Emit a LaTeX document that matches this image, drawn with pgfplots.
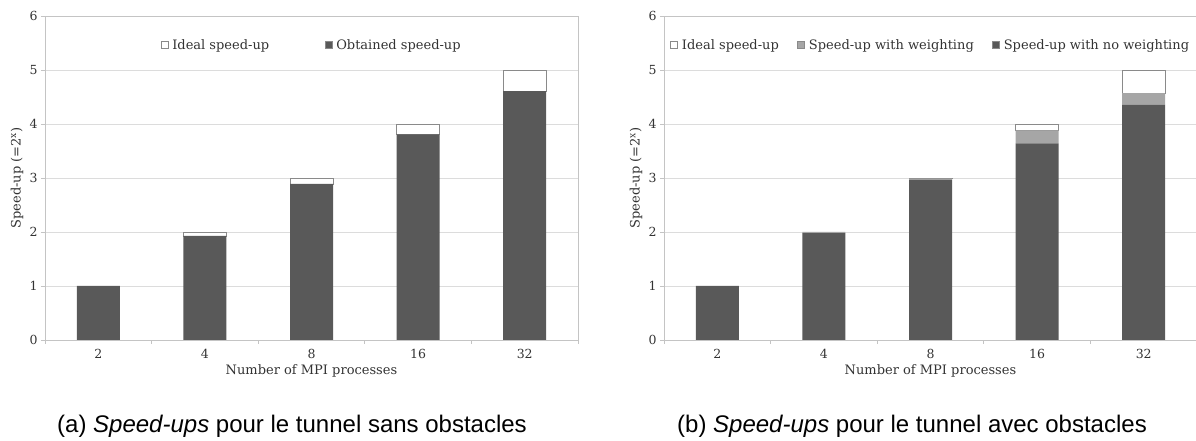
\documentclass[border=0pt]{standalone}
\usepackage{pgfplots}
\pgfplotsset{compat=1.18}
\usepackage{fontspec}
\setmainfont{DejaVu Serif}
\newfontfamily\capfont{Liberation Sans}
\definecolor{darkbar}{HTML}{595959}
\definecolor{midbar}{HTML}{A6A6A6}
\definecolor{gridc}{HTML}{DCDCDC}
\definecolor{axc}{HTML}{C4C4C4}
\definecolor{edge}{HTML}{8A8A8A}
\definecolor{txt}{HTML}{333333}
\newcommand{\axfont}{\fontsize{13bp}{16bp}\selectfont}
\newcommand{\tkfont}{\fontsize{12.5bp}{15bp}\selectfont}
\pgfplotsset{
  sq/.style={legend image code/.code={\draw[##1,draw=edge,line width=0.5bp] (0bp,-3.5bp) rectangle (7bp,3.5bp);}},
  speedup/.style={
    scale only axis, width=533bp, height=324bp,
    ybar stacked, bar width=43bp,
    xmin=-0.5, xmax=4.5, ymin=0, ymax=6,
    xtick={0,1,2,3,4}, xticklabels={2,4,8,16,32},
    minor xtick={-0.5,0.5,1.5,2.5,3.5,4.5},
    ytick={0,1,2,3,4,5,6},
    xtick pos=bottom, ytick pos=left,
    ymajorgrids, major grid style={gridc, line width=0.6bp},
    axis line style={axc, line width=0.7bp},
    major x tick style={draw=none},
    minor x tick style={axc, line width=0.7bp}, minor tick length=4bp,
    major y tick style={axc, line width=0.7bp}, major tick length=4bp,
    tick align=outside,
    /pgf/number format/assume math mode=true,
    tick label style={font=\tkfont, text=txt},
    xticklabel style={yshift=-2bp},
    label style={font=\axfont, text=txt},
    xlabel={Number of MPI processes},
    xlabel style={at={(axis description cs:0.5,0)}, anchor=center, yshift=-31bp},
    ylabel={Speed-up (=2\textsuperscript{x})},
    ylabel style={at={([xshift=-28bp]axis description cs:0,0.5)}, anchor=center, rotate=0},
    legend columns=-1, reverse legend,
    legend style={at={(0.5,0.91)}, anchor=center, draw=none, fill=none,
      font=\axfont, text=txt,
      nodes={inner sep=1.5bp},
      /tikz/every odd column/.append style={column sep=2.5bp}},
  }
}
\begin{document}
\begin{tikzpicture}
\useasboundingbox (0bp,0bp) rectangle (1196bp,441bp);
\begin{axis}[speedup, at={(45bp,101bp)}, anchor=south west,
  legend style={/tikz/every even column/.append style={column sep=54bp}}]
\addplot[fill=darkbar, draw=none, sq] coordinates {(0,1.00) (1,1.93) (2,2.89) (3,3.81) (4,4.61)};
\addplot[fill=white, draw=edge, line width=0.5bp, sq] coordinates {(0,0) (1,0.07) (2,0.11) (3,0.19) (4,0.39)};
\legend{Obtained speed-up, Ideal speed-up}
\end{axis}
\begin{axis}[speedup, at={(664bp,101bp)}, anchor=south west,
  legend style={/tikz/every even column/.append style={column sep=17bp}}]
\addplot[fill=darkbar, draw=none, sq] coordinates {(0,1.00) (1,1.98) (2,2.97) (3,3.64) (4,4.36)};
\addplot[fill=midbar, draw=none, sq] coordinates {(0,0) (1,0.02) (2,0.02) (3,0.24) (4,0.21)};
\addplot[fill=white, draw=edge, line width=0.5bp, sq] coordinates {(0,0) (1,0) (2,0.01) (3,0.12) (4,0.43)};
\legend{Speed-up with no weighting, Speed-up with weighting, Ideal speed-up}
\end{axis}
\node[font=\capfont\fontsize{24bp}{28bp}\selectfont, anchor=center] at (292bp,15bp) {(a) \textit{Speed-ups} pour le tunnel sans obstacles};
\node[font=\capfont\fontsize{24bp}{28bp}\selectfont, anchor=center] at (912bp,15bp) {(b) \textit{Speed-ups} pour le tunnel avec obstacles};
\end{tikzpicture}
\end{document}
